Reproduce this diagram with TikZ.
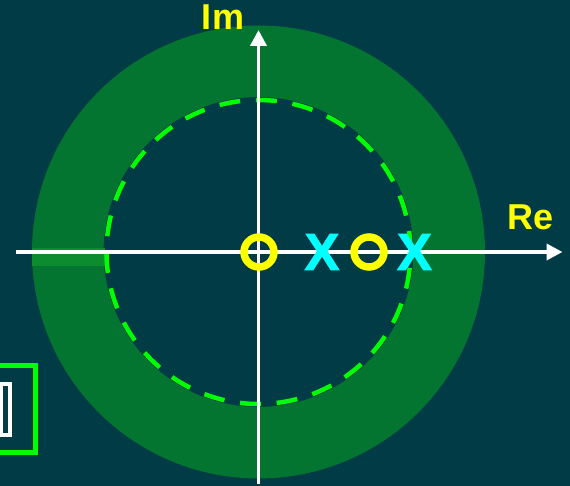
\documentclass[tikz,border=0pt]{standalone}
\usepackage{fontspec}
\setmainfont{Liberation Sans}
\newfontfamily\polefont[BoldFeatures={FakeBold=2}]{Liberation Sans}
\usepackage{tikz}
\usetikzlibrary{arrows.meta}
\definecolor{figBg}{RGB}{0,59,70}
\definecolor{figRing}{RGB}{3,117,48}
\definecolor{figBand}{RGB}{12,140,46}
\definecolor{figDash}{RGB}{0,255,0}
\definecolor{figZero}{RGB}{255,255,0}
\definecolor{figPole}{RGB}{0,255,255}

\begin{document}
\begin{tikzpicture}[
  x=1pt,y=1pt,
  font=\bfseries,>={Triangle[length=16pt,width=16pt]},
  axisline/.style={->,white,line width=3.8pt},
  axislabel/.style={text=figZero,font=\fontsize{36}{36}\selectfont\bfseries,inner sep=0pt},
  zero/.style={circle,draw=figZero,line width=7.5pt,minimum size=30pt,inner sep=0pt},
  pole/.style={text=figPole,font=\polefont\fontsize{52}{52}\selectfont\bfseries,inner sep=0pt},
  unitcircle/.style={draw=figDash,line width=4.5pt,dash pattern=on 21pt off 15.73pt}
]
% background and frame
\fill[figBg] (-258.5,-234) rectangle (311.5,252);
\useasboundingbox (-258.5,-234) rectangle (311.5,252);

% region of convergence
\fill[figRing,even odd rule] (0,0) circle (226.5) (0,0) circle (155);
\fill[figBand] (-226,4) rectangle (-153,-14);
\draw[unitcircle] (0,0) circle (152);

% axes
\coordinate (xs) at (-242.5,0);
\coordinate (xe) at (304,0);
\coordinate (ys) at (0,-232);
\coordinate (ye) at (0,222);
\draw[axisline] (xs) -- (xe);
\draw[axisline] (ys) -- (ye);
\node[axislabel,anchor=base] (im) at (-35.5,222) {Im};
\node[axislabel,anchor=base] (re) at (272.5,22) {Re};

% zeros and poles
\node[zero] (z1) at (0.5,0)   {};
\node[zero] (z2) at (110.5,0) {};
\node[pole] (p1) at (63.5,0)  {X};
\node[pole] (p2) at (156,0)   {X};

% clipped boxes at the left edge
\draw[figDash,line width=5pt] (-270,-113.5) -| (-223,-200.5) -- (-270,-200.5);
\draw[white,line width=4pt] (-257.5,-132) rectangle (-248.5,-183);
\end{tikzpicture}
\end{document}
